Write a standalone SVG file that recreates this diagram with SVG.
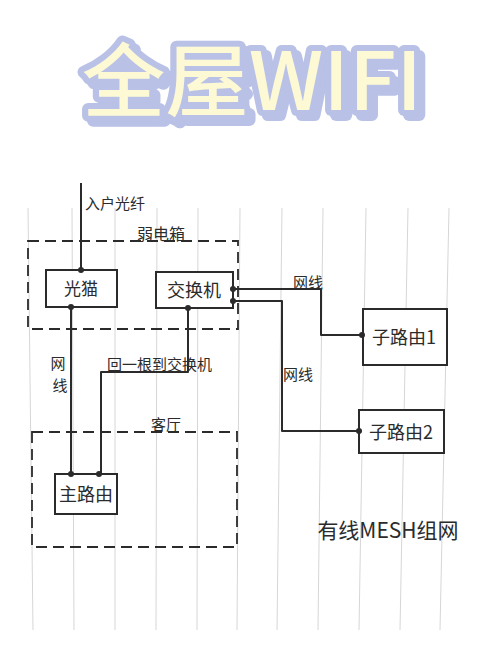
<svg xmlns="http://www.w3.org/2000/svg" width="500" height="652" viewBox="0 0 500 652">
<style>
.paper{stroke:#d6d6d6;stroke-width:1}
.ln{fill:none;stroke:#2b2b2b;stroke-width:2;stroke-linejoin:round}
.box{fill:#ffffff;stroke:#2b2b2b;stroke-width:2}
.dash{fill:none;stroke:#2b2b2b;stroke-width:1.8;stroke-dasharray:11 6}
.dot{fill:#2b2b2b}
.t{font-family:"Noto Sans CJK SC","Liberation Sans",sans-serif;fill:#2b2b2b}
.title{font-family:"Noto Sans CJK SC","Liberation Sans",sans-serif;font-weight:500;font-size:80px}
</style>
<defs>
<filter id="shadow" x="-10%" y="-20%" width="130%" height="150%">
<feDropShadow dx="5" dy="5" stdDeviation="0.5" flood-color="#b9c1e6" flood-opacity="1"/>
</filter>
</defs>
<rect width="500" height="652" fill="#ffffff"/>
<g id="paper-lines">
<line class="paper" x1="28" y1="208" x2="33" y2="630"/>
<line class="paper" x1="72" y1="208" x2="74" y2="630"/>
<line class="paper" x1="115" y1="208" x2="115" y2="630"/>
<line class="paper" x1="157" y1="208" x2="156" y2="630"/>
<line class="paper" x1="198" y1="208" x2="197" y2="630"/>
<line class="paper" x1="240" y1="208" x2="237" y2="630"/>
<line class="paper" x1="282" y1="208" x2="277" y2="630"/>
<line class="paper" x1="323" y1="208" x2="318" y2="630"/>
<line class="paper" x1="366" y1="208" x2="359" y2="630"/>
<line class="paper" x1="408" y1="208" x2="400" y2="630"/>
<line class="paper" x1="449" y1="208" x2="440" y2="630"/>
</g>
<g id="title">
<text class="title" x="82" y="110" textLength="340" lengthAdjust="spacingAndGlyphs" fill="#fdf9d4" stroke="#b9c1e6" stroke-width="12" stroke-linejoin="round" paint-order="stroke" filter="url(#shadow)">全屋WIFI</text>
</g>
<g id="zones">
<g id="ruodianxiang">
<rect class="dash" x="28" y="241" width="210" height="88"/>
<text class="t" x="161" y="240" font-size="16" text-anchor="middle">弱电箱</text>
</g>
<g id="keting">
<rect class="dash" x="32" y="432" width="205" height="115"/>
<text class="t" x="166" y="430" font-size="15" text-anchor="middle">客厅</text>
</g>
</g>
<g id="connectors">
<polyline class="ln" points="81,183 81,270"/>
<polyline class="ln" points="71,307 71,474"/>
<polyline class="ln" points="188,308 188,372 101,372 101,474"/>
<polyline class="ln" points="233,289 321,289 321,335 362,335"/>
<polyline class="ln" points="233,301 282,301 282,431 359,431"/>
</g>
<g id="labels">
<text class="t" x="85" y="209" font-size="15">入户光纤</text>
<text class="t" x="58" y="369" font-size="15" text-anchor="middle">网</text>
<text class="t" x="60" y="391" font-size="15" text-anchor="middle">线</text>
<text class="t" x="107" y="370" font-size="15">回一根到交换机</text>
<text class="t" x="308" y="288" font-size="15" text-anchor="middle">网线</text>
<text class="t" x="298" y="380" font-size="15" text-anchor="middle">网线</text>
<text class="t" x="388" y="538" font-size="21" text-anchor="middle">有线MESH组网</text>
</g>
<g id="guangmao">
<rect class="box" x="46" y="270" width="71" height="37"/>
<text class="t" x="81" y="295" font-size="17" text-anchor="middle">光猫</text>
</g>
<g id="jiaohuanji">
<rect class="box" x="156" y="272" width="77" height="36"/>
<text class="t" x="194" y="297" font-size="18" text-anchor="middle">交换机</text>
</g>
<g id="zhuluyou">
<rect class="box" x="55" y="474" width="62" height="40"/>
<text class="t" x="86" y="501" font-size="18" text-anchor="middle">主路由</text>
</g>
<g id="ziluyou1">
<rect class="box" x="363" y="309" width="84" height="56"/>
<text class="t" x="404" y="344" font-size="18" text-anchor="middle">子路由1</text>
</g>
<g id="ziluyou2">
<rect class="box" x="359" y="410" width="85" height="43"/>
<text class="t" x="401" y="439" font-size="18" text-anchor="middle">子路由2</text>
</g>
<g id="dots">
<circle class="dot" cx="81" cy="270" r="3"/>
<circle class="dot" cx="71" cy="307" r="3"/>
<circle class="dot" cx="188" cy="308" r="3"/>
<circle class="dot" cx="233" cy="289" r="3"/>
<circle class="dot" cx="233" cy="301" r="3"/>
<circle class="dot" cx="71" cy="474" r="3"/>
<circle class="dot" cx="99" cy="474" r="3"/>
<circle class="dot" cx="362" cy="335" r="3"/>
<circle class="dot" cx="359" cy="431" r="3"/>
</g>
</svg>
